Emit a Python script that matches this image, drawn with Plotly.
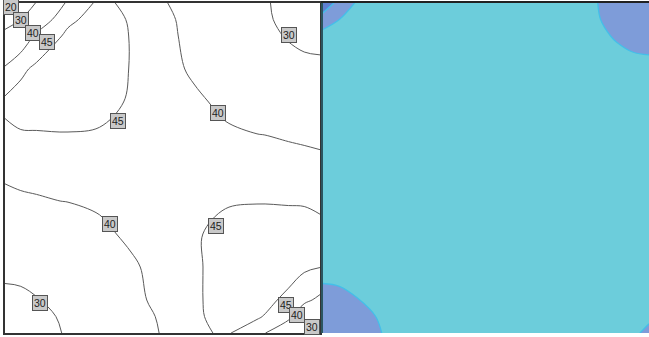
import plotly.graph_objects as go

# grid node positions (fraction of panel width / height, y measured from top)
x_grid = [0, 0.05, 0.1, 0.2, 0.3, 0.4, 0.5, 0.6, 0.7, 0.8, 0.9, 0.95, 1.0]
y_grid = [0, 0.05, 0.1, 0.2, 0.3, 0.4, 0.5, 0.6, 0.7, 0.8, 0.9, 0.95, 1.0]

# field values (rows = y_grid, cols = x_grid)
z_row00 = [14, 23, 30.5, 41, 46, 44, 40.3, 38.5, 35.5, 31.5, 28, 26.5, 25.5]
z_row01 = [24, 30, 36, 44, 47, 44.6, 41, 38.6, 35.6, 31.7, 28.4, 27, 26.5]
z_row02 = [34, 36, 41, 46, 47.5, 44.8, 41.2, 38.8, 36, 32.3, 29.5, 28.4, 28]
z_row03 = [40.6, 44, 46, 48, 47.5, 44.8, 41.2, 39.5, 37.3, 35, 32.3, 31.7, 31.5]
z_row04 = [46, 47, 47.5, 48, 47.3, 44.3, 41.6, 40.6, 39.3, 37.3, 36.2, 36, 36]
z_row05 = [44, 44.6, 44.6, 44.7, 44.3, 43.5, 42.0, 41.0, 40.5, 40.1, 39.7, 39.4, 39.2]
z_row06 = [41.2, 41.3, 41.2, 41.7, 41.9, 42.0, 42.5, 42.0, 41.9, 41.7, 41.2, 41.3, 41.0]
z_row07 = [38.7, 39.4, 39.7, 40.1, 40.5, 41.0, 42.0, 43.5, 44.3, 44.7, 44.6, 44.6, 44]
z_row08 = [35.3, 35.6, 36, 37.3, 39.3, 40.6, 41.6, 44.1, 47.3, 48, 47.5, 47, 46.5]
z_row09 = [31.5, 31.7, 32.3, 35, 37.3, 39.5, 41.2, 44.0, 47.5, 47.8, 46.8, 45.8, 45.1]
z_row10 = [28.5, 28.8, 29.7, 32.3, 36, 38.8, 41.2, 44.0, 47.5, 46.8, 44, 41, 39]
z_row11 = [27, 27, 28.4, 31, 35, 38, 40.6, 44.0, 47, 45.8, 41, 36.5, 32]
z_row12 = [25.5, 26.5, 28, 30.5, 34.5, 37.5, 40.3, 43.8, 45.8, 41.3, 36.5, 32, 27.5]

z_field = [z_row00, z_row01, z_row02, z_row03, z_row04, z_row05, z_row06,
           z_row07, z_row08, z_row09, z_row10, z_row11, z_row12]

# contour levels drawn on the left panel
levels_major = (20, 40, 10)   # 20, 30, 40
level_extra = 45

# boxed contour labels: text and position on the left panel
label_texts = ["20", "30", "40", "45", "45", "40", "30", "40", "45", "30", "45", "40", "30"]
label_x = [0.018, 0.05, 0.089, 0.133, 0.358, 0.676, 0.902, 0.333, 0.67, 0.111, 0.892, 0.927, 0.975]
label_y = [0.013, 0.05, 0.091, 0.118, 0.358, 0.333, 0.097, 0.670, 0.676, 0.909, 0.915, 0.945, 0.982]

fig = go.Figure()

fig.add_trace(go.Contour(
    x=x_grid, y=y_grid, z=z_field,
    contours=dict(start=levels_major[0], end=levels_major[1], size=levels_major[2],
                  coloring="none", showlabels=False),
    line=dict(color="#5a5a5a", width=1, smoothing=1),
    showscale=False, hoverinfo="skip", xaxis="x", yaxis="y"))

fig.add_trace(go.Contour(
    x=x_grid, y=y_grid, z=z_field,
    contours=dict(start=level_extra, end=level_extra, size=5,
                  coloring="none", showlabels=False),
    line=dict(color="#5a5a5a", width=1, smoothing=1),
    showscale=False, hoverinfo="skip", xaxis="x", yaxis="y"))

fig.add_trace(go.Contour(
    x=x_grid, y=y_grid, z=z_field,
    contours=dict(start=20, end=30, size=10, coloring="fill"),
    colorscale=[[0, "#5f80d2"], [0.25, "#5f80d2"], [0.25, "#7e9cd9"], [0.75, "#7e9cd9"],
                [0.75, "#6ccddb"], [1, "#6ccddb"]],
    line=dict(color="#44bfe9", width=1.3, smoothing=1),
    showscale=False, hoverinfo="skip", xaxis="x2", yaxis="y2"))

for t, lx, ly in zip(label_texts, label_x, label_y):
    fig.add_annotation(
        x=lx, y=ly, xref="x", yref="y", text=t, showarrow=False,
        font=dict(family="Liberation Sans, Arial, sans-serif", size=10.5, color="#222222"),
        bgcolor="#c9c9c9", bordercolor="#555555", borderwidth=1, borderpad=1)

axis_common = dict(showgrid=False, zeroline=False, showticklabels=False, ticks="")
fig.update_layout(
    width=649, height=337,
    margin=dict(l=5, r=0, t=3, b=4),
    paper_bgcolor="white", plot_bgcolor="white",
    showlegend=False,
    xaxis=dict(domain=[0, 0.4891], range=[0, 1], showline=True, mirror=True,
               linecolor="#333333", linewidth=1.5, **axis_common),
    yaxis=dict(domain=[0, 1], range=[1, 0], showline=True, mirror=True,
               linecolor="#333333", linewidth=1.5, **axis_common),
    xaxis2=dict(domain=[0.4938, 1], range=[0, 1], side="top", showline=True,
                linecolor="#222222", linewidth=1.5, anchor="y2", **axis_common),
    yaxis2=dict(domain=[0, 1], range=[1, 0], showline=True, linecolor="#2b5560",
                linewidth=2, anchor="x2", **axis_common),
)

fig.write_html("out.html")
